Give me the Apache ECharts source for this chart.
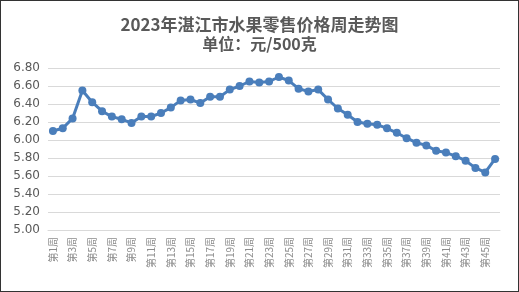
<!DOCTYPE html>
<html>
<head>
<meta charset="utf-8">
<script src="https://cdn.jsdelivr.net/npm/echarts@6/dist/echarts.min.js"></script>
<style>
html,body{margin:0;padding:0;background:#fff;}
#c{width:517px;height:290px;border:1px solid #333;}
</style>
</head>
<body>
<div id="c"></div>
<script>
const titleText = '2023年湛江市水果零售价格周走势图';
const subtitleText = '单位：元/500克';
const weeks = [];
for (let i = 1; i <= 46; i++) weeks.push('第' + i + '周');
const prices = [6.10, 6.13, 6.24, 6.55, 6.42, 6.32, 6.26, 6.23, 6.19, 6.26,
  6.26, 6.30, 6.36, 6.44, 6.45, 6.41, 6.48, 6.48, 6.56, 6.60,
  6.65, 6.64, 6.65, 6.70, 6.66, 6.57, 6.54, 6.56, 6.45, 6.35,
  6.28, 6.20, 6.18, 6.17, 6.13, 6.08, 6.02, 5.97, 5.94, 5.88,
  5.86, 5.82, 5.77, 5.69, 5.64, 5.79];
const yMin = 5.0, yMax = 6.8, yStep = 0.2;

const chart = echarts.init(document.getElementById('c'));
chart.setOption({
  animation: false,
  title: [{
    text: titleText,
    left: 'center', top: 10,
    textStyle: {fontFamily: 'Noto Sans CJK SC', fontSize: 17, fontWeight: 'bold', color: '#595959'}
  }, {
    text: subtitleText,
    left: 'center', top: 30,
    textStyle: {fontFamily: 'Noto Sans CJK SC', fontSize: 16, fontWeight: 'bold', color: '#595959'}
  }],
  grid: {left: 47, right: 18, top: 67, bottom: 61},
  xAxis: {
    type: 'category',
    data: weeks,
    boundaryGap: true,
    axisLine: {show: true, lineStyle: {color: '#d9d9d9'}},
    axisTick: {show: false},
    axisLabel: {
      interval: 1, rotate: 90, fontSize: 10, color: '#8c8c8c', margin: 7,
      fontFamily: 'Noto Sans CJK SC'
    }
  },
  yAxis: {
    type: 'value',
    min: yMin, max: yMax, interval: yStep,
    axisLine: {show: false},
    axisTick: {show: false},
    splitLine: {lineStyle: {color: '#d9d9d9', width: 1}},
    axisLabel: {
      formatter: v => v.toFixed(2), fontSize: 12, color: '#595959', margin: 8,
      fontFamily: 'DejaVu Sans'
    }
  },
  series: [{
    type: 'line',
    data: prices,
    showAllSymbol: true,
    symbol: 'circle',
    symbolSize: 8,
    lineStyle: {color: '#4a7ebb', width: 3},
    itemStyle: {color: '#4a7ebb'}
  }]
});
</script>
</body>
</html>
